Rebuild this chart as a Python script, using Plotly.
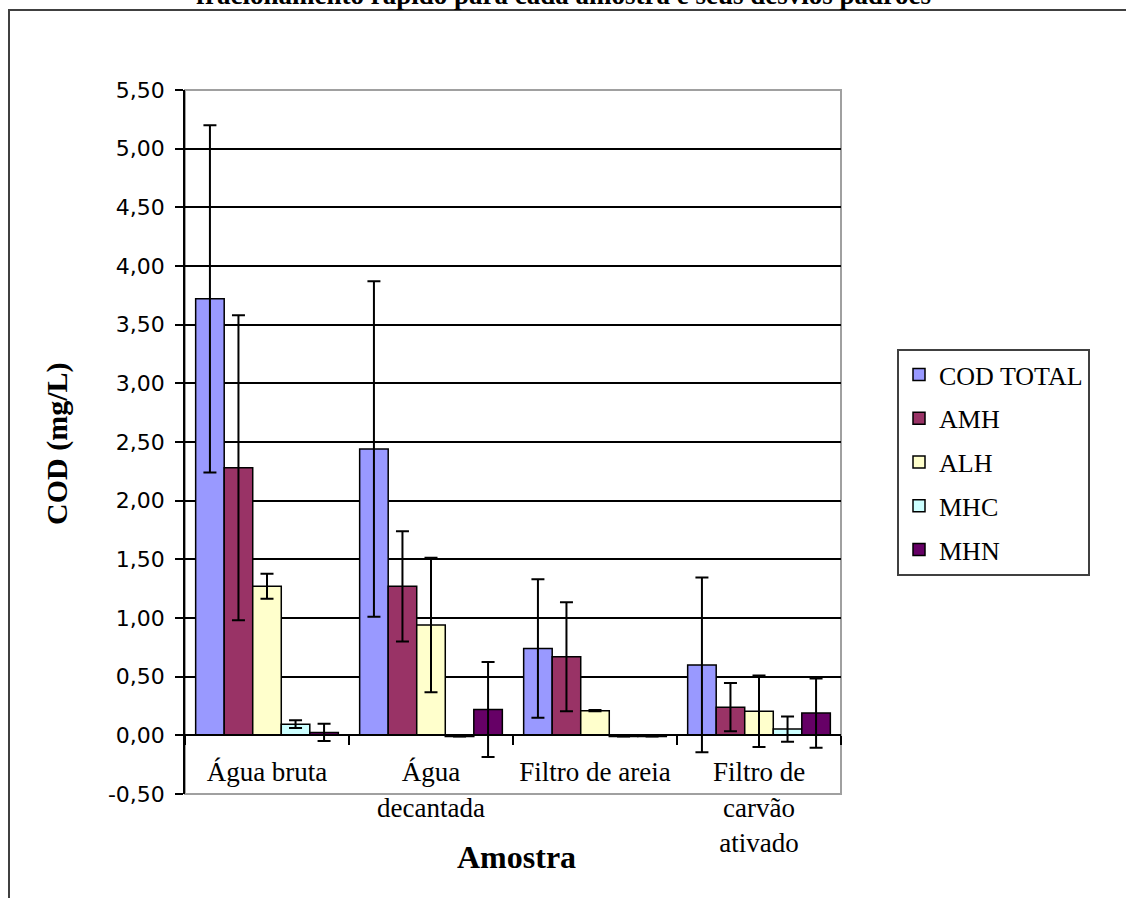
import plotly.graph_objects as go

# Sample points along the treatment train
categorias = ["Água bruta", "Água<br>decantada", "Filtro de areia", "Filtro de<br>carvão<br>ativado"]

# COD fractions (mg/L) and their standard deviations
series = ["COD TOTAL", "AMH", "ALH", "MHC", "MHN"]
cod_total = [3.72, 2.44, 0.74, 0.60]
cod_total_dp = [1.48, 1.43, 0.59, 0.745]
amh = [2.28, 1.27, 0.67, 0.24]
amh_dp = [1.30, 0.47, 0.465, 0.205]
alh = [1.27, 0.94, 0.21, 0.205]
alh_dp = [0.107, 0.573, 0.005, 0.305]
mhc = [0.095, -0.01, -0.01, 0.053]
mhc_dp = [0.033, 0.0, 0.0, 0.108]
mhn = [0.025, 0.22, -0.01, 0.19]
mhn_dp = [0.073, 0.405, 0.0, 0.295]

valores = [cod_total, amh, alh, mhc, mhn]
desvios = [cod_total_dp, amh_dp, alh_dp, mhc_dp, mhn_dp]
cores = ["#9999FF", "#993366", "#FFFFCC", "#CCFFFF", "#660066"]

# y axis ticks
y_ticks = [-0.5, 0.0, 0.5, 1.0, 1.5, 2.0, 2.5, 3.0, 3.5, 4.0, 4.5, 5.0, 5.5]
y_tick_labels = ["-0,50", "0,00", "0,50", "1,00", "1,50", "2,00", "2,50",
                 "3,00", "3,50", "4,00", "4,50", "5,00", "5,50"]
y_grid = [0.5, 1.0, 1.5, 2.0, 2.5, 3.0, 3.5, 4.0, 4.5, 5.0]

W, H = 1126, 898
L, R, T, B = 185, 841, 90, 794  # plot area in pixels
pw, ph = R - L, B - T


def px_x(x):
    return (x - L) / pw


def px_y(y):
    return (B - y) / ph


serif = "Liberation Serif, Times New Roman, serif"
sans = "DejaVu Sans, Verdana, sans-serif"

fig = go.Figure()
for nome, v, dp, cor in zip(series, valores, desvios, cores):
    fig.add_trace(go.Bar(
        name=nome, x=categorias, y=v,
        marker=dict(color=cor, line=dict(color="black", width=1.5)),
        error_y=dict(type="data", array=dp, visible=True, color="black",
                     thickness=2, width=6.5),
        legendgroup=nome,
    ))

# invisible helper trace on a second y axis to carry the horizontal grid
fig.add_trace(go.Scatter(x=[categorias[0]], y=[0], yaxis="y2", mode="markers",
                         marker=dict(opacity=0), showlegend=False, hoverinfo="skip"))

fig.update_layout(
    width=W, height=H,
    margin=dict(l=L, r=W - R, t=T, b=H - B),
    paper_bgcolor="white", plot_bgcolor="white",
    barmode="group", bargap=0.13, bargroupgap=0,
    separators=",.",
    showlegend=True,
    legend=dict(
        x=px_x(897), y=px_y(349), xanchor="left", yanchor="top",
        font=dict(family=serif, size=26, color="black"),
        bordercolor="#404040", borderwidth=2, bgcolor="white",
        tracegroupgap=7, itemwidth=30,
    ),
    xaxis=dict(
        type="category", anchor="free", position=0.5 / 6,
        showline=True, linecolor="black", linewidth=1.5,
        ticks="outside", tickson="boundaries", ticklen=9, tickwidth=1.5, tickcolor="black",
        tickfont=dict(family=serif, size=27, color="black"),
        ticklabelstandoff=13,
        showgrid=False, zeroline=False,
    ),
    yaxis=dict(
        range=[-0.5, 5.5], tickvals=y_ticks, ticktext=y_tick_labels,
        showline=True, linecolor="black", linewidth=1.5,
        ticks="outside", ticklen=8, tickwidth=1.5, tickcolor="black",
        tickfont=dict(family=sans, size=22, color="black"),
        ticklabelstandoff=6,
        showgrid=False, zeroline=False,
    ),
    yaxis2=dict(
        overlaying="y", range=[-0.5, 5.5], tickvals=y_grid, showticklabels=False,
        showgrid=True, gridcolor="black", gridwidth=1.5, zeroline=False, showline=False,
    ),
    shapes=[
        # plot area frame
        dict(type="rect", xref="paper", yref="paper", x0=0, x1=1, y0=0, y1=1,
             line=dict(color="#A0A0A0", width=2), layer="below"),
        # chart border
        dict(type="rect", xref="paper", yref="paper",
             x0=px_x(9), x1=px_x(W + 40), y0=px_y(10), y1=px_y(H + 40),
             line=dict(color="#404040", width=2), layer="below"),
    ],
    annotations=[
        dict(text="<b>fracionamento rápido para cada amostra e seus desvios padrões</b>",
             xref="paper", yref="paper", x=px_x(563), y=px_y(12), xanchor="center",
             yanchor="bottom", showarrow=False,
             font=dict(family=serif, size=27, color="black")),
        dict(text="<b>COD (mg/L)</b>", xref="paper", yref="paper",
             x=px_x(57), y=px_y(444), xanchor="center", yanchor="middle",
             textangle=-90, showarrow=False,
             font=dict(family=serif, size=30, color="black")),
        dict(text="<b>Amostra</b>", xref="paper", yref="paper",
             x=px_x(516), y=px_y(857), xanchor="center", yanchor="middle",
             showarrow=False, font=dict(family=serif, size=32, color="black")),
    ],
)

fig.write_html("out.html")
